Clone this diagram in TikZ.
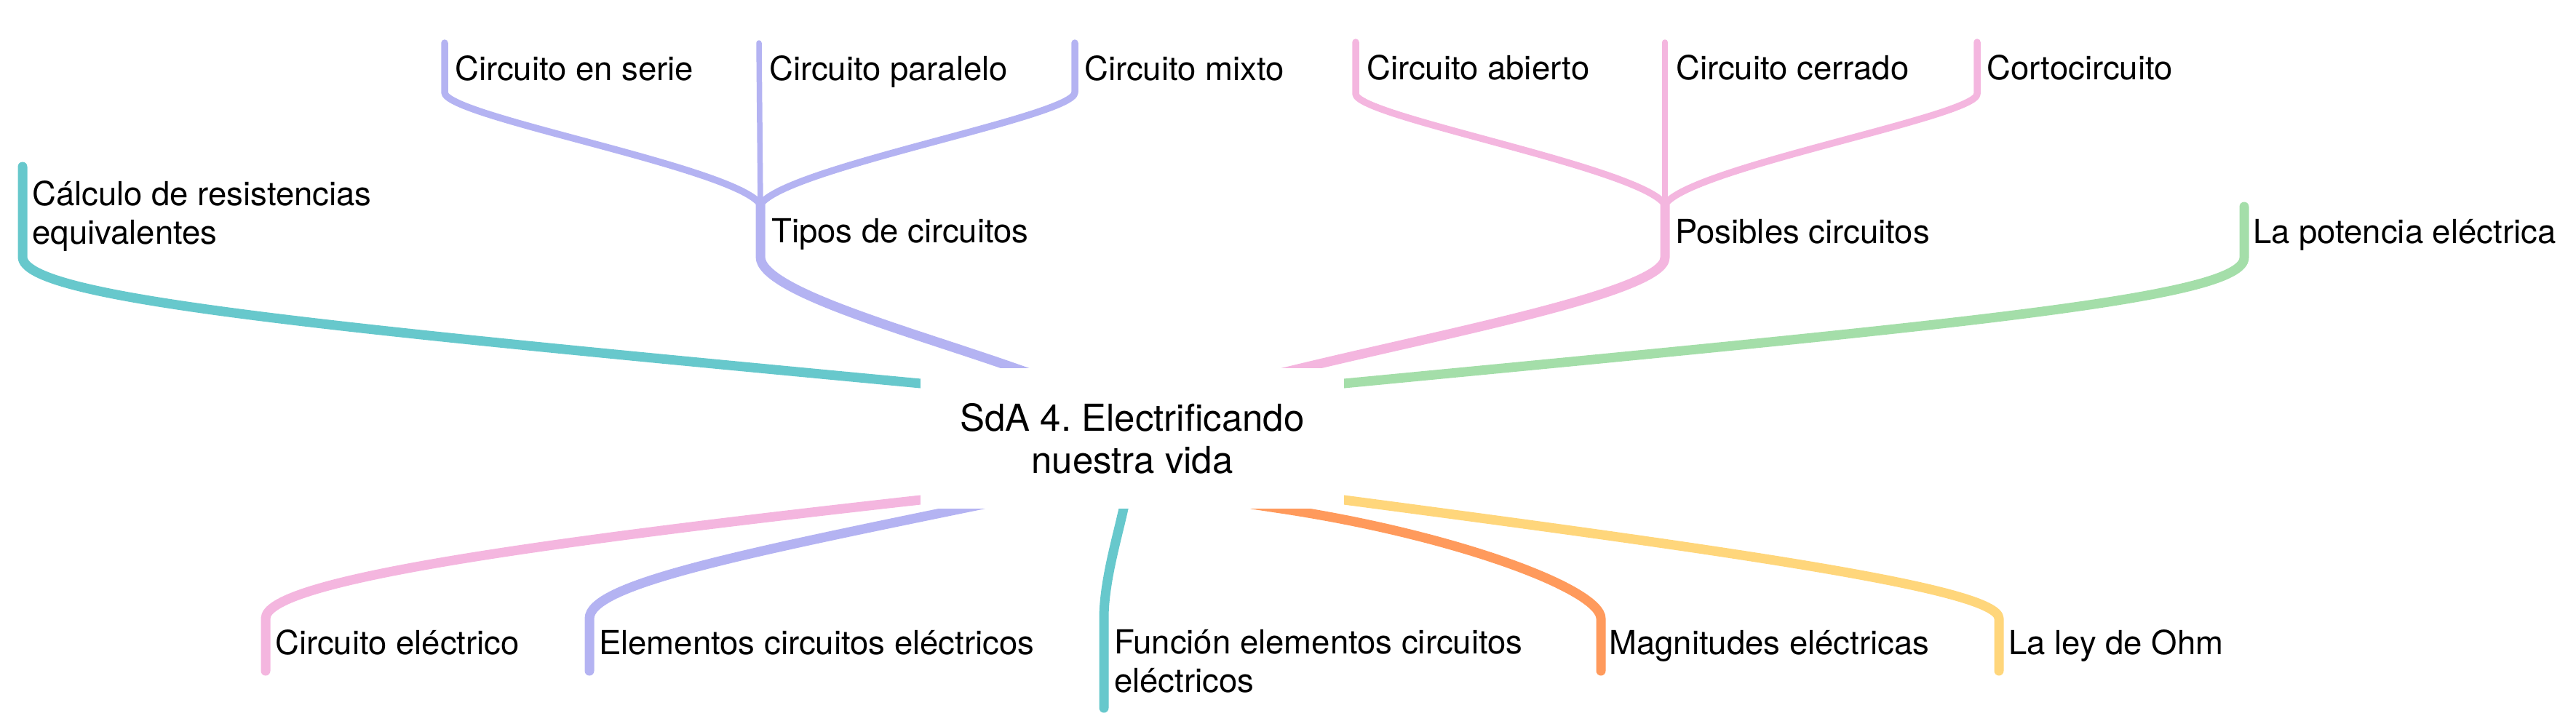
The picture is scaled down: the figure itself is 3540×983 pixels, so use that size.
\documentclass[tikz,border=0pt]{standalone}
\usepackage{fontspec}
\setmainfont{TeX Gyre Heros}
\usetikzlibrary{calc}
\definecolor{cteal}{HTML}{67C8CC}
\definecolor{cpurple}{HTML}{B4B3F2}
\definecolor{cpink}{HTML}{F4B6DF}
\definecolor{cgreen}{HTML}{A4DEA9}
\definecolor{corange}{HTML}{FF9A5C}
\definecolor{cyellow}{HTML}{FFD67B}
\frenchspacing
\begin{document}
\begin{tikzpicture}[x=1pt,y=-1pt,
  lbl/.style={font=\fontsize{45.5}{53}\selectfont, inner sep=0pt, anchor=base west, text=black},
  mainbr/.style={line width=13pt, line cap=round, line join=round},
  subbr/.style={line width=9.5pt, line cap=round, line join=round},
  stembr/.style={line width=7.5pt, line cap=round}]
\useasboundingbox (0,0) rectangle (3540,983);

% central topic
\node[font=\fontsize{51}{58}\selectfont, align=center, inner sep=0pt,
      minimum width=582pt, minimum height=193pt] (root) at (1556,602.5)
      {SdA 4. Electrificando\\nuestra vida};

% labels
\node[lbl] (calc) at (44,282) {\begin{tabular}[t]{@{}l@{}}Cálculo de resistencias\\equivalentes\end{tabular}};
\node[lbl] (tipos) at (1060,333) {Tipos de circuitos};
\node[lbl] (serie) at (625,110) {Circuito en serie};
\node[lbl] (paralelo) at (1057,110) {Circuito paralelo};
\node[lbl] (mixto) at (1490,110) {Circuito mixto};
\node[lbl] (posibles) at (2302,334) {Posibles circuitos};
\node[lbl] (abierto) at (1878,109) {Circuito abierto};
\node[lbl] (cerrado) at (2303,109) {Circuito cerrado};
\node[lbl] (corto) at (2730,109) {Cortocircuito};
\node[lbl] (potencia) at (3096,334) {La potencia eléctrica};
\node[lbl] (celec) at (378,899) {Circuito eléctrico};
\node[lbl] (elem) at (823,899) {Elementos circuitos eléctricos};
\node[lbl] (func) at (1531,898) {\begin{tabular}[t]{@{}l@{}}Función elementos circuitos\\eléctricos\end{tabular}};
\node[lbl] (magn) at (2211,899) {Magnitudes eléctricas};
\node[lbl] (ohm) at (2760,899) {La ley de Ohm};

% branch end points
\coordinate (aCalc) at (1265,527);   \coordinate (eCalc) at (31,229);
\coordinate (aTipos) at (1395,506);  \coordinate (jTipos) at (1045,281);
\coordinate (eSerie) at (611,59);    \coordinate (eParalelo) at (1043,59);
\coordinate (eMixto) at (1477,59);
\coordinate (aPos) at (1788,506);    \coordinate (jPos) at (2288,281);
\coordinate (eAbierto) at (1863,58); \coordinate (eCerrado) at (2288,58);
\coordinate (eCorto) at (2717,58);
\coordinate (aPot) at (1847,527);    \coordinate (ePot) at (3084,284);
\coordinate (aCelec) at (1265,687);  \coordinate (eCelec) at (365,922);
\coordinate (aElem) at (1322,699);   \coordinate (eElem) at (810,922);
\coordinate (aFunc) at (1544,699);   \coordinate (eFunc) at (1517,973);
\coordinate (aMagn) at (1760,699);   \coordinate (eMagn) at (2200,922);
\coordinate (aOhm) at (1847,687);    \coordinate (eOhm) at (2747,922);

\begin{scope}
\clip (0,0) -- (3540,0) -- (3540,983) -- (0,983) -- cycle
      (root.north west) -- (root.south west) -- (root.south east) -- (root.north east) -- cycle;

% top-left teal
\draw[mainbr, cteal] ($(aCalc)!-40pt!(430,448)$) -- (aCalc)
  .. controls (430,448) and (31,410) .. (31,353) -- (eCalc);

% purple top
\draw[mainbr, cpurple] ($(aTipos)!-40pt!(1250,455)$) -- (aTipos)
  .. controls (1250,455) and (1045,400) .. (1045,353) -- (jTipos);
\draw[subbr, cpurple] (jTipos) .. controls (1010,230) and (611,160) .. (611,127) -- (eSerie);
\draw[subbr, cpurple] (jTipos) .. controls (1080,230) and (1477,160) .. (1477,127) -- (eMixto);
\draw[stembr, cpurple] (jTipos) -- (eParalelo);

% pink top
\draw[mainbr, cpink] ($(aPos)!-40pt!(2000,455)$) -- (aPos)
  .. controls (2000,455) and (2288,400) .. (2288,354) -- (jPos);
\draw[subbr, cpink] (jPos) .. controls (2253,230) and (1863,160) .. (1863,129) -- (eAbierto);
\draw[subbr, cpink] (jPos) .. controls (2323,230) and (2717,160) .. (2717,129) -- (eCorto);
\draw[stembr, cpink] (jPos) -- (eCerrado);

% green
\draw[mainbr, cgreen] ($(aPot)!-40pt!(2700,445)$) -- (aPot)
  .. controls (2700,445) and (3084,410) .. (3084,354) -- (ePot);

% bottom branches
\draw[mainbr, cpink] ($(aCelec)!-40pt!(700,750)$) -- (aCelec)
  .. controls (700,750) and (365,800) .. (365,850) -- (eCelec);
\draw[mainbr, cpurple] ($(aElem)!-40pt!(1000,765)$) -- (aElem)
  .. controls (1000,765) and (810,805) .. (810,850) -- (eElem);
\draw[mainbr, cteal] ($(aFunc)!-40pt!(1535,740)$) -- (aFunc)
  .. controls (1535,740) and (1517,800) .. (1517,850) -- (eFunc);
\draw[mainbr, corange] ($(aMagn)!-40pt!(2000,735)$) -- (aMagn)
  .. controls (2000,735) and (2200,810) .. (2200,850) -- (eMagn);
\draw[mainbr, cyellow] ($(aOhm)!-40pt!(2400,760)$) -- (aOhm)
  .. controls (2400,760) and (2747,810) .. (2747,850) -- (eOhm);
\end{scope}
\end{tikzpicture}
\end{document}
